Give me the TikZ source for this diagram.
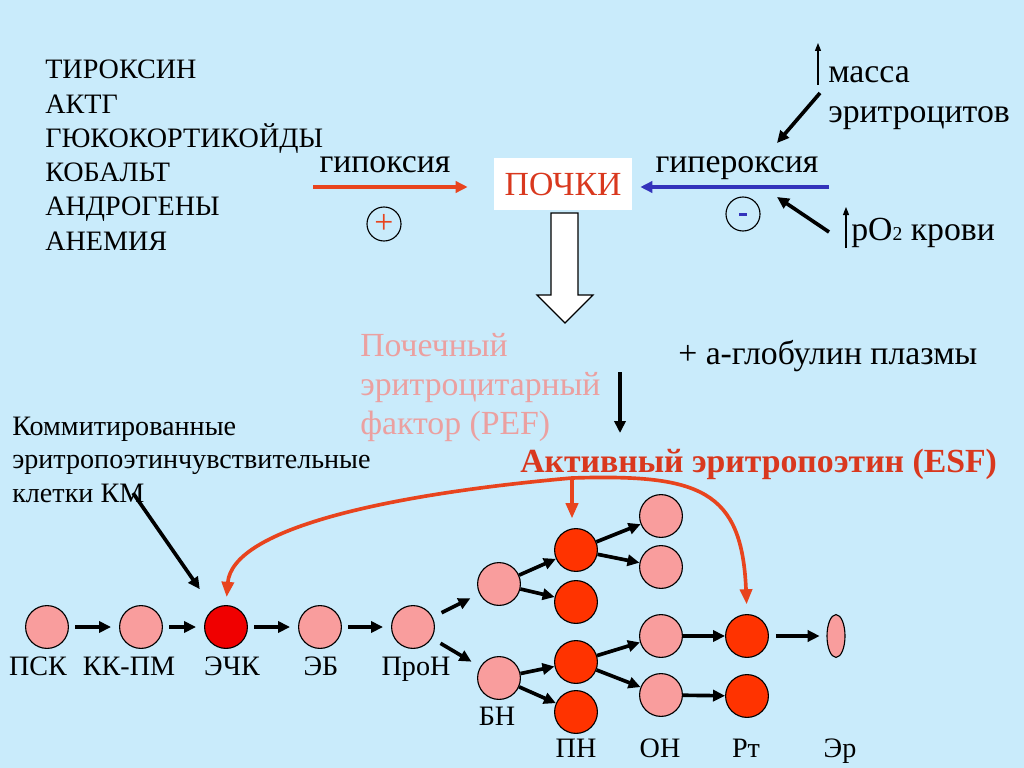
\documentclass[tikz,border=0pt]{standalone}
\usepackage{fontspec}
\setmainfont{Liberation Serif}
\usetikzlibrary{arrows.meta,positioning,calc,shapes.geometric}
\definecolor{bgblue}{HTML}{C9EBFB}
\definecolor{cellpink}{HTML}{F99D9D}
\definecolor{cellred}{HTML}{FF3300}
\definecolor{cellhot}{HTML}{F00000}
\definecolor{arrred}{HTML}{E8441E}
\definecolor{textred}{HTML}{D9381E}
\definecolor{pinktext}{HTML}{EBA0A0}
\definecolor{arrblue}{HTML}{3333BB}
\newcommand{\capsize}{\fontsize{20}{24}\selectfont}
\newcommand{\bigsize}{\fontsize{24}{29}\selectfont}

\begin{document}
\begin{tikzpicture}[x=0.025cm, y=-0.025cm,
  cell/.style={circle, draw, line width=0.8pt, fill=cellpink, minimum size=1.07cm, inner sep=0pt},
  redcell/.style={cell, fill=cellred},
  flow/.style={-{Triangle[length=0.3cm,width=0.28cm]}, line width=2.6pt},
  esfarrow/.style={-{Triangle[length=0.38cm,width=0.3cm]}, line width=2.6pt, draw=arrred},
  kidarrow/.style={-{Triangle[length=0.3cm,width=0.28cm]}, line width=2.2pt},
  thinup/.style={-{Triangle[length=0.2cm,width=0.15cm]}, line width=0.8pt},
  lbl/.style={font=\capsize, anchor=base, inner sep=0pt},
  txt/.style={font=\bigsize, anchor=base west, inner sep=0pt},
  sign/.style={circle, draw, line width=0.8pt, minimum size=0.85cm, inner sep=0pt, font=\bigsize}]

\fill[bgblue] (0,0) rectangle (1024,768);
\useasboundingbox (0,0) rectangle (1024,768);

% --- stimuli list ---
\foreach \t [count=\i from 0] in {ТИРОКСИН, АКТГ, ГЮКОКОРТИКОЙДЫ, КОБАЛЬТ, АНДРОГЕНЫ, АНЕМИЯ}
  \node[font=\capsize, anchor=base west, inner sep=0pt] (stim\i) at (45,79+34.2*\i) {\t};

% --- kidneys ---
\node[fill=white, minimum width=3.45cm, minimum height=1.275cm, text=textred, font=\bigsize] (kid) at (563,184) {ПОЧКИ};

\node[font=\bigsize, anchor=base, inner sep=0pt] (hypo) at (385,173) {гипоксия};
\coordinate (hypostart) at (313,187);
\draw[kidarrow, draw=arrred, shorten >=0.65cm] (hypostart) -- (hypostart -| kid.west);
\node[sign, text=arrred] (plus) at (384,224) {+};

\node[font=\bigsize, anchor=base, inner sep=0pt] (hyper) at (737,173) {гипероксия};
\coordinate (hyperstart) at (829,187);
\draw[kidarrow, draw=arrblue, shorten >=0.2cm] (hyperstart) -- (hyperstart -| kid.east);
\node[sign, text=arrblue] (minus) at (743,214) {\raisebox{-0.1cm}{\rule{0.2cm}{0.08cm}}};

% right side inputs
\node[txt] (mass) at (828,83) {масса};
\node[txt] (mass2) at (828,123) {эритроцитов};
\draw[thinup] (818,85) -- (818,43);
\draw[flow] (820,93) -- (777,143);
\node[txt] (po2) at (851,240) {pO{\fontsize{14}{14}\selectfont 2} крови};
\draw[thinup] (846,248) -- (846,207);
\draw[flow] (829,232) -- (777,197);

% hollow arrow
\draw[fill=white, line width=0.8pt] (551,213) -- (578,213) -- (578,295) -- (593,295) -- (565,323) -- (537,295) -- (551,295) -- cycle;

% --- factor ---
\node[txt, text=pinktext] (pef1) at (360,356) {Почечный};
\node[txt, text=pinktext] (pef2) at (360,395) {эритроцитарный};
\node[txt, text=pinktext] (pef3) at (360,434) {фактор (PEF)};
\node[txt] (glob) at (678,364) {+ а-глобулин плазмы};
\draw[flow] (620,372) -- (620,433);
\node[txt, text=textred, font=\bigsize\bfseries] (esf) at (520,472) {Активный эритропоэтин (ESF)};

% committed cells
\node[font=\capsize, anchor=base west, inner sep=0pt] (km1) at (12,435) {Коммитированные};
\node[font=\capsize, anchor=base west, inner sep=0pt] (km2) at (12,468) {эритропоэтинчувствительные};
\node[font=\capsize, anchor=base west, inner sep=0pt] (km3) at (12,502) {клетки КМ};

% --- cells ---
\node[cell] (psk) at (47,627) {};
\node[cell] (kkpm) at (141,627) {};
\node[cell, fill=cellhot] (ehk) at (226,627) {};
\node[cell] (eb) at (320,627) {};
\node[cell] (pron) at (413,627) {};
\node[cell] (bn1) at (499,584) {};
\node[cell] (bn2) at (499,678) {};
\node[redcell] (pn1) at (576,550) {};
\node[redcell] (pn2) at (576,602) {};
\node[redcell] (pn3) at (576,662) {};
\node[redcell] (pn4) at (576,712) {};
\node[cell] (on1) at (661,516) {};
\node[cell] (on2) at (661,567) {};
\node[cell] (on3) at (661,636) {};
\node[cell] (on4) at (661,695) {};
\node[redcell] (rt1) at (747,636) {};
\node[redcell] (rt2) at (747,696) {};
\node[ellipse, draw, line width=0.8pt, fill=cellpink, minimum width=0.45cm, minimum height=1.07cm, inner sep=0pt] (er) at (836,636) {};

% labels
\node[lbl] at (38,675) {ПСК};
\node[lbl] at (129,675) {КК-ПМ};
\node[lbl] at (232,675) {ЭЧК};
\node[lbl] at (321,675) {ЭБ};
\node[lbl] at (416,675) {ПроН};
\node[lbl] at (497,725) {БН};
\node[lbl] at (576,757) {ПН};
\node[lbl] at (660,757) {ОН};
\node[lbl] at (746,757) {Рт};
\node[lbl] at (840,757) {Эр};

% arrows between cells
\foreach \a/\b in {psk/kkpm, kkpm/ehk, ehk/eb, eb/pron}
  \draw[flow, shorten <=0.16cm, shorten >=0.2cm] (\a) -- (\b);
\foreach \a/\b in {pron/bn1, pron/bn2}
  \draw[flow, shorten <=0.25cm, shorten >=0.25cm] (\a) -- (\b);
\foreach \a/\b in {bn1/pn1, bn1/pn2, bn2/pn3, bn2/pn4, pn1/on1, pn1/on2, pn3/on3, pn3/on4, on3/rt1, on4/rt2}
  \draw[flow] (\a) -- (\b);
\draw[flow, shorten <=0.17cm, shorten >=0.17cm] (rt1) -- (er);

\coordinate (kmtip) at (133,493);
\draw[flow, shorten >=0.6cm] (kmtip) -- (ehk);

% ESF action
\coordinate (esfj) at (572,478);
\draw[esfarrow, shorten >=0.2cm] (esfj) .. controls (380,495) and (232,530) .. (ehk.north);
\draw[esfarrow, shorten >=0.24cm] (esfj) -- (esfj |- pn1.north);
\draw[esfarrow, shorten >=0.24cm] (esfj) .. controls (700,474) and (742,490) .. (rt1.north);
\end{tikzpicture}
\end{document}
